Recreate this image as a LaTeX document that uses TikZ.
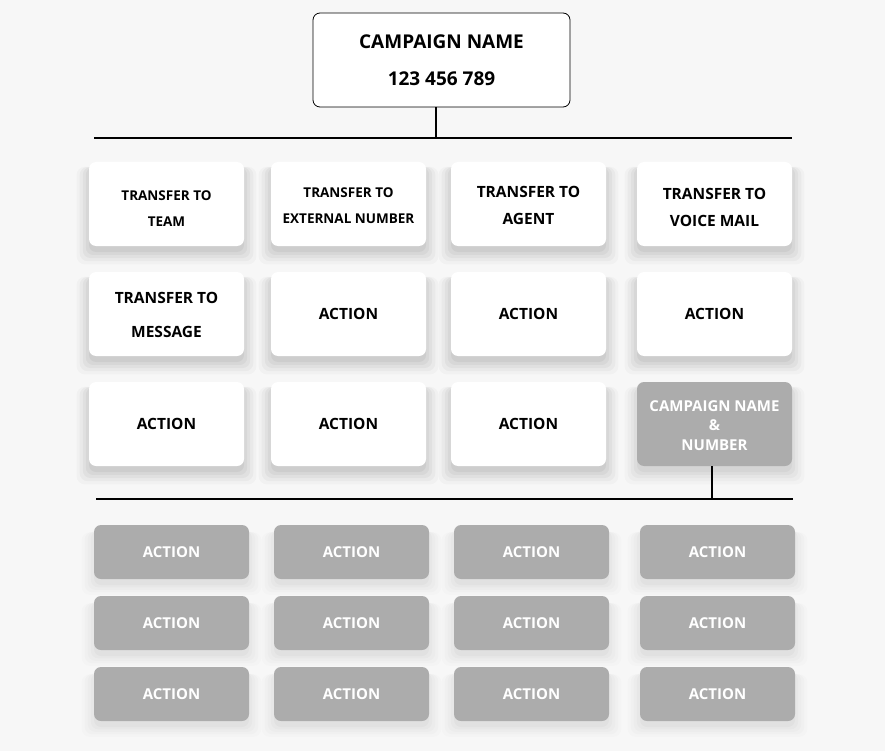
\documentclass[tikz,border=0pt]{standalone}
\usepackage{fontspec}
\setmainfont{Open Sans}
\usetikzlibrary{shadows}
\definecolor{bg}{HTML}{F7F7F7}
\definecolor{boxgray}{HTML}{ACACAC}
\tikzset{
  base/.style={rectangle, rounded corners=7pt, inner sep=0pt, align=center},
  softshadow/.style={
    general shadow={fill=black, opacity=0.025*#1, shadow xshift=0pt, shadow yshift=-10pt, shadow scale=1.16},
    general shadow={fill=black, opacity=0.03*#1, shadow xshift=0pt, shadow yshift=-9pt, shadow scale=1.12},
    general shadow={fill=black, opacity=0.035*#1, shadow xshift=0pt, shadow yshift=-8pt, shadow scale=1.08},
    general shadow={fill=black, opacity=0.04*#1, shadow xshift=0pt, shadow yshift=-7pt, shadow scale=1.04},
    general shadow={fill=black, opacity=0.045*#1, shadow xshift=0pt, shadow yshift=-6pt, shadow scale=1.0}},
  whitebox/.style={base, fill=white, minimum width=155pt, minimum height=84pt, softshadow=1},
  graybox/.style={base, fill=boxgray, text=white, minimum width=155pt, minimum height=84pt, softshadow=0.8},
  actbox/.style={base, fill=boxgray, text=white, minimum width=155pt, minimum height=54pt,
    font=\bfseries\fontsize{15}{20}\selectfont, softshadow=0.5},
  conn/.style={line width=2pt, black},
  bigtxt/.style={font=\bfseries\fontsize{15.5}{27}\selectfont},
  smalltxt/.style={font=\bfseries\fontsize{13.5}{26}\selectfont},
}
\begin{document}
\begin{tikzpicture}[x=1pt,y=-1pt]
\fill[bg] (0,0) rectangle (885,751);
\useasboundingbox (0,0) rectangle (885,751);

\node[base, draw=black, line width=0.8pt, fill=white, minimum width=257pt, minimum height=94pt,
  font=\bfseries\fontsize{19}{37}\selectfont] (top) at (441.5,60) {CAMPAIGN NAME\\123 456 789};

\coordinate (hl1a) at (94,138);
\coordinate (hl1b) at (792,138);
\coordinate (hl1m) at (436,138);
\draw[conn] (hl1a) -- (hl1b);
\draw[conn] (top.south -| hl1m) -- (hl1m);

% row 1
\node[whitebox, smalltxt] (t1) at (166.5,204) {\rule{0pt}{19.5pt}TRANSFER TO\\TEAM};
\node[whitebox, smalltxt] (t2) at (348.5,204) {\rule{0pt}{13.5pt}TRANSFER TO\\EXTERNAL NUMBER};
\node[whitebox, bigtxt] (t3) at (528.5,204) {\rule{0pt}{15pt}TRANSFER TO\\AGENT};
\node[whitebox, bigtxt] (t4) at (714.5,204) {\rule{0pt}{19pt}TRANSFER TO\\VOICE MAIL};
% row 2
\node[whitebox, font=\bfseries\fontsize{15.5}{34}\selectfont] (m1) at (166.5,314) {\rule{0pt}{14pt}TRANSFER TO\\MESSAGE};
\node[whitebox, bigtxt] (m2) at (348.5,314) {ACTION};
\node[whitebox, bigtxt] (m3) at (528.5,314) {ACTION};
\node[whitebox, bigtxt] (m4) at (714.5,314) {ACTION};
% row 3
\node[whitebox, bigtxt] (r1) at (166.5,424) {ACTION};
\node[whitebox, bigtxt] (r2) at (348.5,424) {ACTION};
\node[whitebox, bigtxt] (r3) at (528.5,424) {ACTION};
\node[graybox, font=\bfseries\fontsize{15}{19.5}\selectfont] (r4) at (714.5,424) {\rule{0pt}{14pt}CAMPAIGN NAME\\\&\\NUMBER};

\coordinate (hl2a) at (96,499);
\coordinate (hl2b) at (793,499);
\coordinate (hl2m) at (712,499);
\draw[conn] (hl2a) -- (hl2b);
\draw[conn] (r4.south -| hl2m) -- (hl2m);

% bottom grid
\foreach \x [count=\i] in {171.5,351.5,531.5,717.5}{
  \foreach \y [count=\j] in {552,623,694}{
    \node[actbox] (b\i\j) at (\x,\y) {ACTION};
  }
}
\end{tikzpicture}
\end{document}
